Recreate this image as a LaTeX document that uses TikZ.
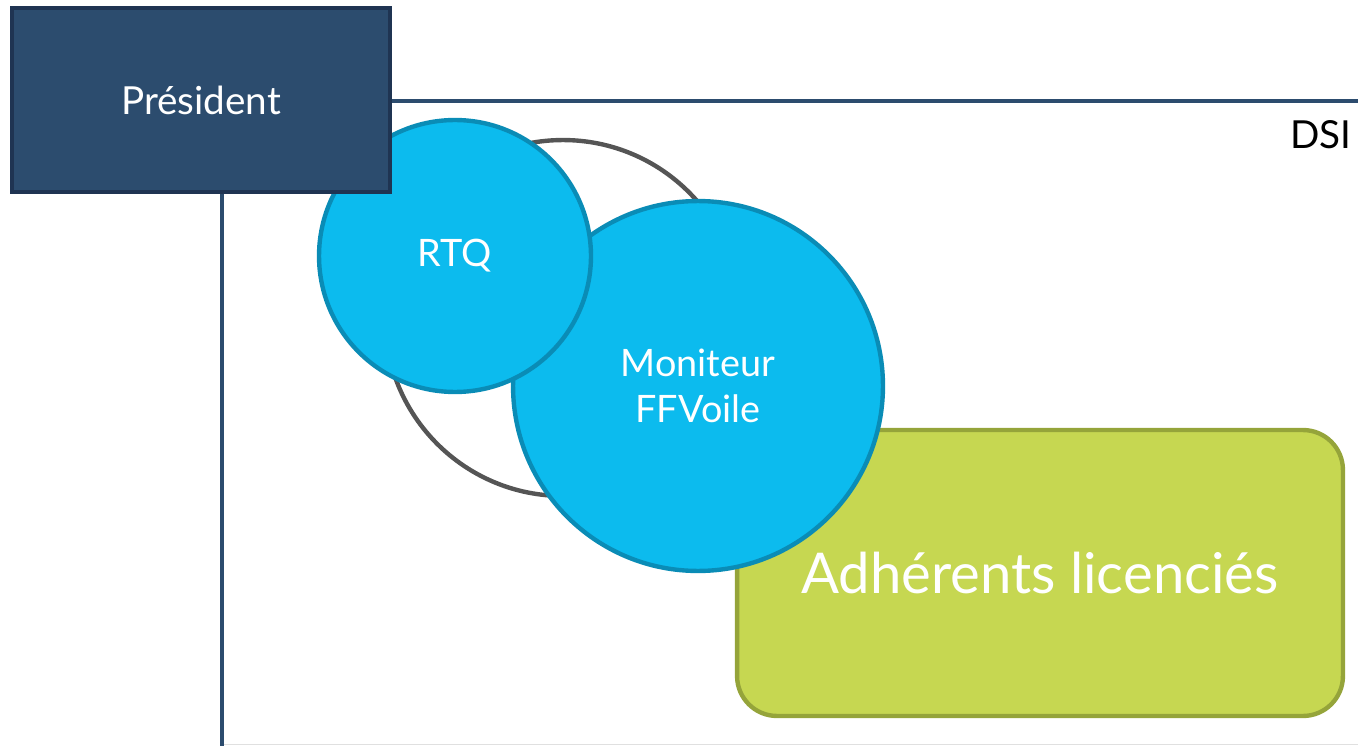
\documentclass[tikz,border=0pt]{standalone}
\usepackage{fontspec}
\setmainfont{Lato}

\definecolor{bleunuit}{HTML}{2C4C6E}
\definecolor{bleunuitbord}{HTML}{1F3452}
\definecolor{cyanfond}{HTML}{0CBBEE}
\definecolor{cyanbord}{HTML}{0A8CB6}
\definecolor{vertfond}{HTML}{C6D751}
\definecolor{vertbord}{HTML}{95A43A}
\definecolor{grisbord}{HTML}{555555}

\begin{document}
\begin{tikzpicture}[x=0.02cm,y=-0.02cm]
    \tikzstyle{trait} = [draw=bleunuit,line width=2.6pt];
    \tikzstyle{bulle} = [circle,fill=cyanfond,draw=cyanbord,line width=2.5pt,text=white,font=\fontsize{21.5}{26}\selectfont,align=center];
    \useasboundingbox (0,0) rectangle (1358,746);
    \coordinate (bord) at (1358,101);
    \coordinate (bas) at (222,746);
    \draw[black!12,line width=0.6pt] (222,744.5) -- (1358,744.5);
    \node (cercle) at (563,318) [circle,draw=grisbord,line width=2.5pt,minimum size=7.12cm] {};
    \node (adherents) at (1040,573) [rectangle,rounded corners=0.8cm,fill=vertfond,draw=vertbord,line width=2.5pt,minimum width=12.12cm,minimum height=5.72cm,text=white,font=\fontsize{32}{36}\selectfont] {Adhérents licenciés};
    \node[bulle,minimum size=7.4cm] (moniteur) at (698,386) {Moniteur\\FFVoile};
    \node[bulle,minimum size=5.44cm] (rtq) at (455,256) {RTQ};
    \node (president) at (201,100) [rectangle,fill=bleunuit,draw=bleunuitbord,line width=2.5pt,minimum width=7.56cm,minimum height=3.68cm,text=white,font=\fontsize{22}{26}\selectfont] {Président};
    \node (dsi) at (1352,135) [anchor=east,inner sep=0pt,font=\fontsize{22}{26}\selectfont] {DSI};
    \draw[trait] (president.east |- bord) -- (bord);
    \draw[trait] (president.south -| bas) -- (bas);
\end{tikzpicture}
\end{document}
